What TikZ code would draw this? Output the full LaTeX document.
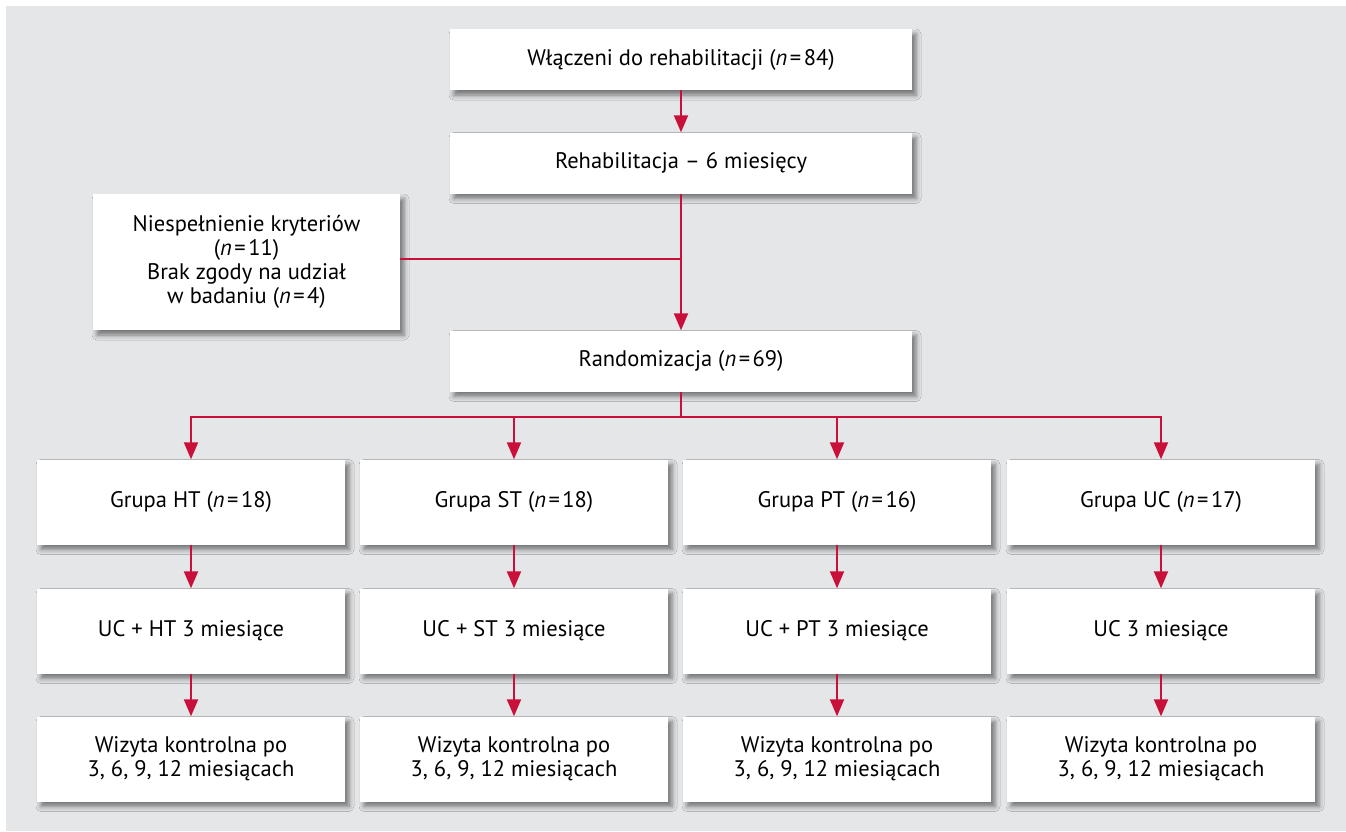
\documentclass[tikz,border=0pt]{standalone}
\usepackage{fontspec}
\setmainfont{PT Sans}
\usetikzlibrary{arrows.meta,shadows.blur,calc}
\definecolor{bggray}{RGB}{229,230,232}
\definecolor{flowred}{RGB}{200,16,58}
\newcommand{\nn}[1]{(\textit{n}\kern2.5pt=\kern2.5pt#1)}
\tikzset{
  box/.style={draw=none,fill=white,align=center,inner sep=0pt,
    font=\fontsize{22.5}{24}\selectfont,
    blur shadow={shadow xshift=4pt,shadow yshift=-5pt,shadow blur radius=5pt,shadow opacity=50}},
  wide/.style={box,minimum width=462pt,minimum height=61pt},
  col/.style={box,minimum width=308pt,minimum height=85pt},
  conn/.style={draw=flowred,line width=2pt},
  arr/.style={conn,-{Triangle[length=17pt,width=14pt]}}
}
\begin{document}
\begin{tikzpicture}[x=1pt,y=-1pt]
\useasboundingbox (0,0) rectangle (1346,831);
\fill[bggray] (6,6) rectangle (1346,831);

\node[wide] (incl) at (681,59.5) {Włączeni do rehabilitacji \nn{84}};
\node[wide] (rehab) at (681,163) {Rehabilitacja -- 6 miesięcy};
\node[box,minimum width=307pt,minimum height=136pt] (excl) at (246.5,262) {Niespełnienie kryteriów\\\nn{11}\\Brak zgody na udział\\w badaniu \nn{4}};
\node[wide] (rand) at (681,361) {Randomizacja \nn{69}};

\node[col] (g1) at (191,502) {Grupa HT \nn{18}};
\node[col] (g2) at (514,502) {Grupa ST \nn{18}};
\node[col] (g3) at (837,502) {Grupa PT \nn{16}};
\node[col] (g4) at (1161,502) {Grupa UC \nn{17}};

\node[col] (t1) at (191,631) {UC + HT 3 miesiące};
\node[col] (t2) at (514,631) {UC + ST 3 miesiące};
\node[col] (t3) at (837,631) {UC + PT 3 miesiące};
\node[col] (t4) at (1161,631) {UC 3 miesiące};

\node[col] (w1) at (191,759) {Wizyta kontrolna po\\3, 6, 9, 12 miesiącach};
\node[col] (w2) at (514,759) {Wizyta kontrolna po\\3, 6, 9, 12 miesiącach};
\node[col] (w3) at (837,759) {Wizyta kontrolna po\\3, 6, 9, 12 miesiącach};
\node[col] (w4) at (1161,759) {Wizyta kontrolna po\\3, 6, 9, 12 miesiącach};

\draw[arr] (incl) -- (rehab);
\draw[arr] (rehab) -- (rand);
\draw[conn] (excl.east |- 0,259) -- (rehab.south |- 0,259);

\coordinate (br) at (681,417);
\draw[conn] (rand.south) -- (br);
\foreach \i in {1,2,3,4}{
  \draw[arr] (br) -| (g\i.north);
  \draw[arr] (g\i) -- (t\i);
  \draw[arr] (t\i) -- (w\i);
}
\end{tikzpicture}
\end{document}
